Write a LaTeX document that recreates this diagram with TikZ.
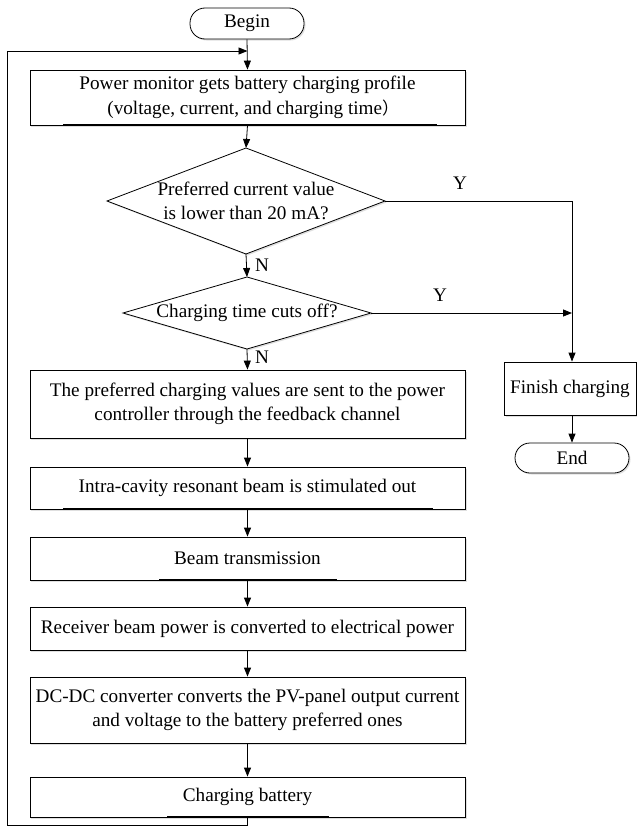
\documentclass[tikz,border=0pt]{standalone}
\usepackage{fontspec}
\setmainfont{Liberation Serif}
\newfontfamily\cjkfont{Noto Sans CJK SC}
\usetikzlibrary{arrows.meta,shadows}
\begin{document}
\begin{tikzpicture}[x=1bp,y=-1bp,
  every node/.style={font=\fontsize{19.2bp}{24.5bp}\selectfont},
  box/.style={draw,line width=0.8bp,fill=white,inner sep=0pt,align=center,
    drop shadow={opacity=0.25,shadow xshift=1.5bp,shadow yshift=-1.5bp}},
  term/.style={box,rounded corners=15bp},
  arr/.style={line width=0.8bp,-{Triangle[length=9bp,width=7bp]}},
  ln/.style={line width=0.8bp},
  lbl/.style={inner sep=0pt}]
\useasboundingbox (0,0) rectangle (637,827);
% terminals and boxes
\node[term,minimum width=114bp,minimum height=31bp] (begin) at (247,23.5) {Begin};
\node[box,minimum width=435bp,minimum height=55bp] (pm) at (247.5,97.5)
  {Power monitor gets battery charging profile\\\hspace*{0.6em}(voltage, current, and charging time{\cjkfont\fontsize{17bp}{24.5bp}\selectfont ）}};
\node[box,minimum width=435bp,minimum height=68bp] (pref) at (247.5,404)
  {The preferred charging values are sent to the power\\controller through the feedback channel};
\node[box,minimum width=435bp,minimum height=42bp] (intra) at (247.5,488)
  {Intra-cavity resonant beam is stimulated out};
\node[box,minimum width=435bp,minimum height=43bp] (beam) at (247.5,558.5)
  {Beam transmission};
\node[box,minimum width=435bp,minimum height=43bp] (recv) at (247.5,628.5)
  {Receiver beam power is converted to electrical power};
\node[box,minimum width=435bp,minimum height=66bp] (dcdc) at (247.5,710)
  {DC-DC converter converts the PV-panel output current\\and voltage to the battery preferred ones};
\node[box,minimum width=435bp,minimum height=40bp] (chg) at (247.5,797)
  {Charging battery};
\node[box,minimum width=132bp,minimum height=53bp] (fin) at (570,388.5)
  {Finish charging};
\node[term,minimum width=114bp,minimum height=30bp] (end) at (572,458) {End};
% diamond 1
\coordinate (d1) at (246,201);
\coordinate (d1t) at (246,148);
\coordinate (d1b) at (246,254);
\coordinate (d1l) at (107,201);
\coordinate (d1r) at (385,201);
\draw[ln,fill=white,drop shadow={opacity=0.25,shadow xshift=1.5bp,shadow yshift=-1.5bp}]
  (d1t) -- (d1r) -- (d1b) -- (d1l) -- cycle;
\node[align=center,inner sep=0pt] (d1txt) at (d1) {Preferred current value\\is lower than 20 mA?};
% diamond 2
\coordinate (d2) at (247,313);
\coordinate (d2t) at (247,277);
\coordinate (d2b) at (247,349);
\coordinate (d2l) at (123,313);
\coordinate (d2r) at (371,313);
\draw[ln,fill=white,drop shadow={opacity=0.25,shadow xshift=1.5bp,shadow yshift=-1.5bp}]
  (d2t) -- (d2r) -- (d2b) -- (d2l) -- cycle;
\node[inner sep=0pt] (d2txt) at (d2) {Charging time cuts off?};
% connectors
\draw[arr] (begin.south) -- (pm.north);
\draw[arr] (pm.south) -- (d1t);
\draw[arr] (d1b) -- (d2t);
\draw[arr] (d2b) -- (pref.north);
\draw[arr] (pref.south) -- (intra.north);
\draw[arr] (intra.south) -- (beam.north);
\draw[arr] (beam.south) -- (recv.north);
\draw[arr] (recv.south) -- (dcdc.north);
\draw[arr] (dcdc.south) -- (chg.north);
\coordinate (rc) at (572,201);
\draw[arr] (d1r) -- (rc) -- (fin.north -| rc);
\draw[arr] (d2r) -- (d2r -| rc);
\draw[arr] (fin.south -| end.north) -- (end.north);
% feedback loop
\coordinate (lb) at (7,825);
\coordinate (lt) at (7,51);
\draw[arr] (chg.south) -- (chg.south |- lb) -- (lb) -- (lt) -- (lt -| pm.north);
% thick bottom segments
\draw[line width=1.3bp] (63,125) -- (437,125);
\draw[line width=1.8bp] (63,509) -- (433,509);
\draw[line width=1.8bp] (159,580) -- (337,580);
\draw[line width=1.8bp] (167,817) -- (329,817);
% labels
\node[lbl] (y1) at (460,183) {Y};
\node[lbl] (y2) at (440,295) {Y};
\node[lbl] (n1) at (262,265) {N};
\node[lbl] (n2) at (262,357) {N};
\end{tikzpicture}
\end{document}
